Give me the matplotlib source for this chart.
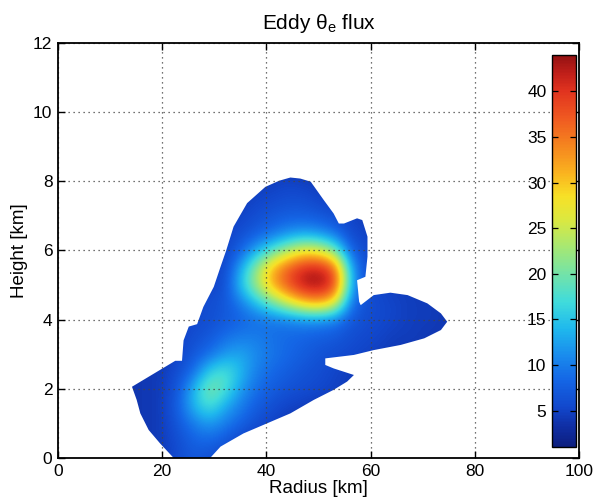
import numpy as np
import matplotlib
matplotlib.use("Agg")
import matplotlib.pyplot as plt
from matplotlib.patches import Polygon
from matplotlib.cm import ScalarMappable
from matplotlib.colors import Normalize, LinearSegmentedColormap

plt.rcParams['font.family'] = ['Liberation Sans', 'DejaVu Sans']
plt.rcParams['mathtext.fontset'] = 'custom'
plt.rcParams['mathtext.rm'] = 'Liberation Sans'

# ---- data ----
radius_km = [11, 14, 17, 20, 23, 26, 29, 32, 35, 38, 41, 44, 47, 50, 53, 56, 59, 62, 65, 68, 71, 74, 77]
height_km = [0.0, 0.5, 1.0, 1.5, 2.0, 2.5, 3.0, 3.5, 4.0, 4.5, 5.0, 5.5, 6.0, 6.5, 7.0, 7.5, 8.0, 8.5]

flux = [
    [4, 4, 4, 4, 6, 7, 6, 5, 4, 4, 4, 4, 4, 4, 4, 4, 4, 4, 4, 4, 4, 4, 4],
    [4, 4, 4, 4.5, 6, 8, 8.5, 7, 5, 4, 4, 4, 4, 4, 4, 4, 4, 4, 4, 4, 4, 4, 4],
    [4, 4, 4, 4.5, 7, 10, 12, 10, 8, 6, 5, 4, 4, 4, 4, 4, 4, 4, 4, 4, 4, 4, 4],
    [4, 4, 4, 4.5, 8, 14, 18, 13, 10, 7.5, 6, 5, 4.5, 4, 4, 4, 4, 4, 4, 4, 4, 4, 4],
    [4, 4, 4, 4.5, 7, 14, 21, 18, 12, 9, 7.5, 6.5, 6, 5.5, 5, 4.5, 4, 4, 4, 4, 4, 4, 4],
    [4, 4, 4, 4.5, 6, 9, 16, 18, 14, 10, 8.5, 7.5, 6.5, 6, 5, 4.5, 4, 4, 4, 4, 4, 4, 4],
    [4, 4, 4, 4, 5, 7, 9, 12, 13, 11, 9.5, 8.5, 7.5, 6.5, 6, 5.5, 5, 4.5, 4, 4, 4, 4, 4],
    [4, 4, 4, 4, 5, 6, 7, 9, 10, 10, 9, 8.5, 8, 7.5, 7, 6, 5.5, 5, 4.5, 4.5, 4, 4, 4],
    [4, 4, 4, 4, 5, 5.5, 6, 7, 8, 9, 9.5, 10, 11, 11, 10, 7, 6, 5.5, 5, 4.5, 4.5, 4, 4],
    [4, 4, 4, 4, 5, 5.5, 6, 7, 10, 15, 20, 26, 31, 33, 28, 10, 6, 5.5, 5, 4.5, 4.5, 4, 4],
    [4, 4, 4, 4, 4.5, 5, 5, 6, 15, 23, 32, 38, 43, 44, 40, 14, 6, 5, 4.5, 4.5, 4, 4, 4],
    [4, 4, 4, 4, 4.5, 4.5, 5, 5.5, 13, 22, 31, 37, 41, 42, 37, 13, 6, 5, 4.5, 4, 4, 4, 4],
    [4, 4, 4, 4, 4, 4, 4.5, 5, 8, 13, 18, 23, 27, 26, 20, 8, 5.5, 4.5, 4, 4, 4, 4, 4],
    [4, 4, 4, 4, 4, 4, 4.5, 5, 6, 7.5, 9, 11, 12, 11, 9, 5.5, 5, 4.5, 4, 4, 4, 4, 4],
    [4, 4, 4, 4, 4, 4, 4, 4.5, 5, 6, 7, 7.5, 7.5, 7, 6, 5, 4.5, 4, 4, 4, 4, 4, 4],
    [4, 4, 4, 4, 4, 4, 4, 4, 4.5, 5, 5.5, 6, 6, 5, 4.5, 4.5, 4, 4, 4, 4, 4, 4, 4],
    [4, 4, 4, 4, 4, 4, 4, 4, 4, 4.5, 4.5, 5, 4.5, 4.5, 4, 4, 4, 4, 4, 4, 4, 4, 4],
    [4, 4, 4, 4, 4, 4, 4, 4, 4, 4, 4, 4, 4, 4, 4, 4, 4, 4, 4, 4, 4, 4, 4],
]

# outline of the region where the flux is shown (km)
outline_x = [22.2, 19.6, 17.4, 15.8, 15.1, 14.2, 22.5, 23.8, 24.1, 25.1, 26.7, 27.9, 29.9, 31.2,
             32.3, 33.7, 36.3, 39.8, 42.5, 44.6, 46.5, 48.5, 51.0, 52.9, 53.9, 54.9, 57.4, 58.4,
             59.4, 59.4, 59.0, 57.4, 57.8, 58.1, 60.6, 63.8, 67.1, 70.9, 73.5, 74.7, 73.5, 70.3,
             65.8, 60.6, 56.8, 51.3, 51.3, 52.9, 56.8, 55.5, 52.9, 49.1, 44.6, 40.1, 35.6, 31.2, 29.2]
outline_y = [0.0, 0.42, 0.81, 1.29, 1.68, 2.06, 2.81, 2.81, 3.4, 3.80, 3.87, 4.37, 4.95, 5.53,
             6.01, 6.69, 7.37, 7.84, 8.02, 8.11, 8.08, 7.99, 7.46, 7.07, 6.78, 6.78, 6.93, 6.88,
             6.40, 5.82, 5.24, 5.14, 4.52, 4.42, 4.71, 4.78, 4.71, 4.47, 4.18, 3.94, 3.70, 3.46,
             3.27, 3.12, 2.98, 2.88, 2.69, 2.59, 2.40, 2.21, 1.97, 1.68, 1.29, 1.00, 0.71, 0.33, 0.0]

x_ticks = [0, 20, 40, 60, 80, 100]
y_ticks = [0, 2, 4, 6, 8, 10, 12]
cbar_ticks = [5, 10, 15, 20, 25, 30, 35, 40]
cbar_min, cbar_max = 1.0, 44.0

# colour map as it appears in the picture (a softened jet)
cmap = LinearSegmentedColormap.from_list('softjet', [
    (0.00, (0.05, 0.12, 0.50)),
    (0.05, (0.06, 0.18, 0.64)),
    (0.10, (0.07, 0.28, 0.80)),
    (0.17, (0.08, 0.40, 0.90)),
    (0.23, (0.10, 0.54, 0.93)),
    (0.30, (0.12, 0.72, 0.93)),
    (0.37, (0.25, 0.86, 0.86)),
    (0.44, (0.45, 0.89, 0.66)),
    (0.51, (0.65, 0.91, 0.45)),
    (0.58, (0.86, 0.91, 0.25)),
    (0.64, (0.97, 0.88, 0.15)),
    (0.70, (0.98, 0.70, 0.12)),
    (0.77, (0.96, 0.52, 0.12)),
    (0.84, (0.94, 0.35, 0.13)),
    (0.91, (0.88, 0.20, 0.12)),
    (0.955, (0.75, 0.12, 0.10)),
    (1.00, (0.58, 0.07, 0.07)),
])

# ---- figure ----
fig = plt.figure(figsize=(5.95, 5.04), dpi=100)
ax = fig.add_axes([0.0975, 0.0913, 0.8756, 0.8234])

Z = np.array(flux)
dx = radius_km[1] - radius_km[0]
dy = height_km[1] - height_km[0]
extent = [radius_km[0] - dx / 2, radius_km[-1] + dx / 2,
          height_km[0] - dy / 2, height_km[-1] + dy / 2]
im = ax.imshow(Z, origin='lower', extent=extent, aspect='auto',
               interpolation='bicubic', cmap=cmap, vmin=cbar_min, vmax=cbar_max, zorder=0)
poly = Polygon(np.column_stack([outline_x, outline_y]), closed=True,
               transform=ax.transData, facecolor='none', edgecolor='none')
ax.add_patch(poly)
im.set_clip_path(poly)

ax.set_xlim(0, 100)
ax.set_ylim(0, 12)
ax.set_xticks(x_ticks)
ax.set_yticks(y_ticks)
ax.grid(True, linestyle=(0, (1, 3)), color='#444444', linewidth=0.9)
ax.tick_params(direction='in', top=True, right=True, length=5, width=1.0,
               labelsize=12.5, pad=4)
for s in ax.spines.values():
    s.set_linewidth(1.3)

ax.set_xlabel('Radius [km]', fontsize=13.5, labelpad=1)
ax.set_ylabel('Height [km]', fontsize=13.5, labelpad=4)
ax.set_title('Eddy θ$_{\\mathrm{e}}$ flux', fontsize=15, pad=10)

# colorbar placed inside the axes (MATLAB style)
cax = fig.add_axes([0.9277, 0.1131, 0.0403, 0.7778])
sm = ScalarMappable(norm=Normalize(cbar_min, cbar_max), cmap=cmap)
cb = fig.colorbar(sm, cax=cax, ticks=cbar_ticks)
cb.outline.set_linewidth(1.0)
cax.yaxis.set_ticks_position('both')
cax.tick_params(axis='y', direction='in', left=True, right=True,
                labelleft=True, labelright=False, length=4, width=0.9, labelsize=12.5, pad=4)

fig.savefig('out.png', dpi=100)
